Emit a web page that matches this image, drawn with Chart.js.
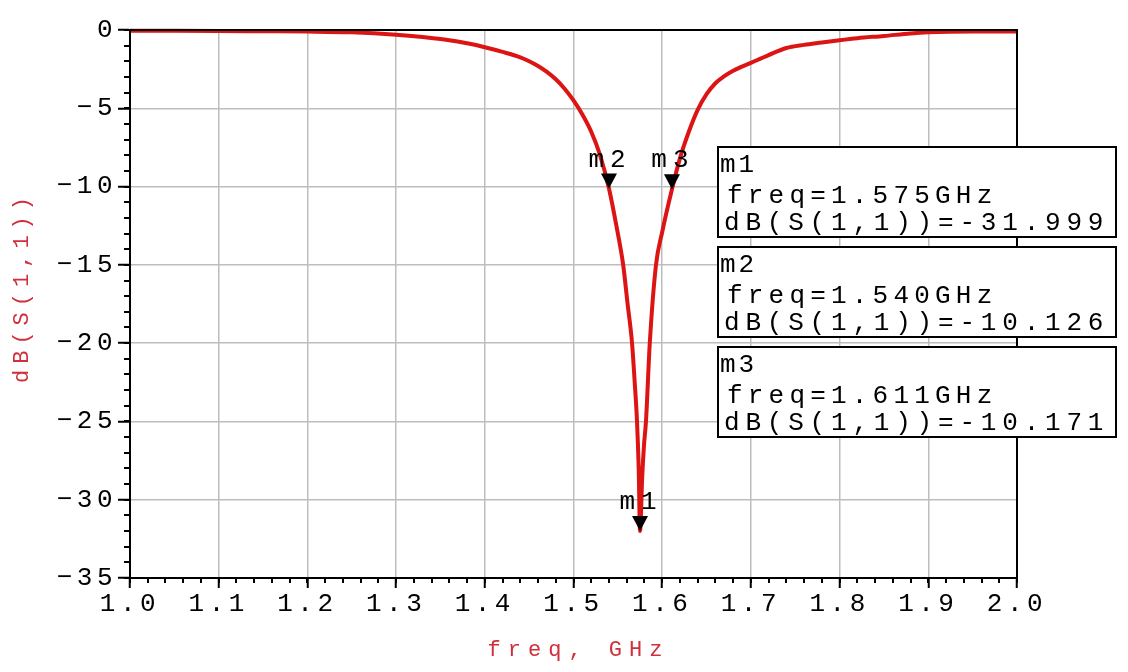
<!DOCTYPE html>
<html>
<head>
<meta charset="utf-8">
<script src="https://cdn.jsdelivr.net/npm/chart.js@4.4.1/dist/chart.umd.min.js"></script>
<style>
  html, body { margin: 0; padding: 0; background: #ffffff; }
  #wrap { width: 1128px; height: 672px; position: relative; }
</style>
</head>
<body>
<div id="wrap"><canvas id="c" width="1128" height="672"></canvas></div>
<script>
// ---- data ----
const freqGHz = [1.00, 1.05, 1.10, 1.15, 1.20, 1.25, 1.30, 1.33, 1.36, 1.38, 1.40, 1.42, 1.44, 1.45, 1.46, 1.47, 1.48, 1.49, 1.50, 1.51, 1.52, 1.53, 1.540, 1.548, 1.556, 1.561, 1.566, 1.569, 1.5716, 1.5735, 1.575, 1.5775, 1.5795, 1.5817, 1.586, 1.593, 1.600, 1.611, 1.620, 1.630, 1.640, 1.650, 1.660, 1.670, 1.680, 1.700, 1.720, 1.740, 1.760, 1.780, 1.800, 1.820, 1.850, 1.880, 1.900, 1.950, 2.00];
const s11dB   = [-0.05, -0.05, -0.06, -0.08, -0.10, -0.15, -0.30, -0.45, -0.65, -0.85, -1.10, -1.40, -1.75, -2.00, -2.30, -2.68, -3.15, -3.75, -4.50, -5.40, -6.50, -8.00, -10.126, -12.4, -15.0, -17.5, -20.0, -22.5, -25.0, -28.0, -31.999, -28.5, -26.5, -25.0, -20.0, -15.0, -12.9, -10.171, -8.2, -6.5, -5.1, -4.1, -3.4, -2.95, -2.6, -2.1, -1.6, -1.15, -0.95, -0.80, -0.65, -0.52, -0.38, -0.22, -0.15, -0.10, -0.10];

const markerNames = ['m1', 'm2', 'm3'];
const markerFreq  = [1.575, 1.540, 1.611];
const markerDb    = [-31.999, -10.126, -10.171];

const xTicksMin = 1.0, xTicksMax = 2.0, xStep = 0.1, xMinorStep = 0.02;
const yTicksMin = -35, yTicksMax = 0, yStep = 5, yMinorStep = 1;

const xTitle = 'freq, GHz';
const yTitle = 'dB(S(1,1))';

// ---- chart ----
const MONO = "'Liberation Mono', 'DejaVu Sans Mono', monospace";
const TEXT_SPACING = '4.5px';
const TITLE_RED = '#d0303c';

const spacingPlugin = {
  id: 'spacing',
  beforeUpdate(chart) { chart.ctx.letterSpacing = TEXT_SPACING; },
  beforeDraw(chart) {
    const ctx = chart.ctx;
    ctx.letterSpacing = TEXT_SPACING;
    ctx.save();
    ctx.fillStyle = '#ffffff';
    ctx.fillRect(0, 0, chart.width, chart.height);
    ctx.restore();
  }
};

const decorPlugin = {
  id: 'decor',
  afterDatasetsDraw(chart) {
    const ctx = chart.ctx;
    const xs = chart.scales.x, ys = chart.scales.y;
    const a = chart.chartArea;
    ctx.save();
    // minor ticks
    ctx.strokeStyle = '#000';
    ctx.lineWidth = 2;
    ctx.beginPath();
    for (let v = yTicksMin; v <= yTicksMax + 1e-9; v += yMinorStep) {
      const py = Math.round(ys.getPixelForValue(v));
      ctx.moveTo(a.left - 6, py); ctx.lineTo(a.left, py);
    }
    for (let i = 0; i <= Math.round((xTicksMax - xTicksMin) / xMinorStep); i++) {
      const v = xTicksMin + i * xMinorStep;
      const px = Math.round(xs.getPixelForValue(v));
      ctx.moveTo(px, a.bottom); ctx.lineTo(px, a.bottom + 5);
    }
    ctx.stroke();
    // frame
    ctx.lineWidth = 2;
    ctx.strokeRect(a.left, a.top, a.right - a.left, a.bottom - a.top);

    // axis titles (red)
    ctx.font = '22px ' + MONO;
    ctx.fillStyle = TITLE_RED;
    ctx.textAlign = 'center';
    ctx.textBaseline = 'middle';
    ctx.letterSpacing = '7px';
    ctx.fillText(xTitle, (a.left + a.right) / 2 + 5, 650);
    ctx.save();
    ctx.translate(22, (a.top + a.bottom) / 2 - 14);
    ctx.rotate(-Math.PI / 2);
    ctx.letterSpacing = '6px';
    ctx.fillText(yTitle, 3, 0);
    ctx.restore();

    // marker triangles and labels
    ctx.font = '26px ' + MONO;
    ctx.letterSpacing = '6px';
    ctx.textAlign = 'center';
    ctx.textBaseline = 'alphabetic';
    for (let i = 0; i < markerNames.length; i++) {
      const px = xs.getPixelForValue(markerFreq[i]);
      const py = ys.getPixelForValue(markerDb[i]);
      ctx.fillStyle = '#000';
      ctx.beginPath();
      ctx.moveTo(px, py);
      ctx.lineTo(px - 8, py - 15);
      ctx.lineTo(px + 8, py - 15);
      ctx.closePath();
      ctx.fill();
      ctx.fillText(markerNames[i], px + 1, py - 22);
    }

    // marker readout boxes
    const boxLeft = a.right - 299, boxRight = a.right + 99;
    const boxTop0 = 147, boxH = 90, boxGap = 10;
    ctx.textAlign = 'left';
    for (let i = 0; i < markerNames.length; i++) {
      const top = boxTop0 + i * (boxH + boxGap);
      ctx.fillStyle = '#fff';
      ctx.fillRect(boxLeft, top, boxRight - boxLeft, boxH);
      ctx.strokeStyle = '#000';
      ctx.lineWidth = 2;
      ctx.strokeRect(boxLeft, top, boxRight - boxLeft, boxH);
      ctx.fillStyle = '#000';
      ctx.letterSpacing = '3px';
      ctx.fillText(markerNames[i], boxLeft + 2, top + 25);
      ctx.letterSpacing = '5.2px';
      ctx.fillText('freq=' + markerFreq[i].toFixed(3) + 'GHz', boxLeft + 9, top + 56);
      ctx.letterSpacing = '5.8px';
      ctx.fillText('dB(S(1,1))=' + markerDb[i].toFixed(3), boxLeft + 6, top + 83);
    }
    ctx.restore();
    ctx.letterSpacing = TEXT_SPACING;
  }
};

const points = freqGHz.map((f, i) => ({ x: f, y: s11dB[i] }));

new Chart(document.getElementById('c'), {
  type: 'line',
  data: {
    datasets: [{
      label: yTitle,
      data: points,
      borderColor: '#dc1414',
      borderWidth: 4,
      pointRadius: 0,
      cubicInterpolationMode: 'monotone',
      fill: false,
      clip: false
    }]
  },
  options: {
    responsive: false,
    animation: false,
    devicePixelRatio: 1,
    layout: { padding: { left: 0, right: 111, top: 30, bottom: 0 } },
    plugins: { legend: { display: false }, tooltip: { enabled: false } },
    scales: {
      x: {
        type: 'linear',
        min: xTicksMin, max: xTicksMax,
        afterFit(s) { s.height = 94; },
        afterBuildTicks(s) {
          const t = [];
          for (let i = 0; i <= Math.round((xTicksMax - xTicksMin) / xStep); i++) t.push({ value: +(xTicksMin + i * xStep).toFixed(1) });
          s.ticks = t;
        },
        ticks: {
          color: '#000',
          font: { family: MONO, size: 26 },
          padding: 1,
          maxRotation: 0,
          autoSkip: false,
          callback: v => Number(v).toFixed(1)
        },
        grid: { color: '#bdbdbd', lineWidth: 1.5, tickColor: '#000', tickLength: 10, tickWidth: 2 },
        border: { color: '#000', width: 2 },
        title: { display: false, text: xTitle }
      },
      y: {
        type: 'linear',
        min: yTicksMin, max: yTicksMax,
        afterFit(s) { s.width = 130; },
        afterBuildTicks(s) {
          const t = [];
          for (let v = yTicksMin; v <= yTicksMax; v += yStep) t.push({ value: v });
          s.ticks = t;
        },
        ticks: {
          color: '#000',
          font: { family: MONO, size: 26 },
          padding: 1,
          autoSkip: false,
          callback: v => v < 0 ? '\u2212' + Math.abs(v) : String(v)
        },
        grid: { color: '#bdbdbd', lineWidth: 1.5, tickColor: '#000', tickLength: 12, tickWidth: 2 },
        border: { color: '#000', width: 2 },
        title: { display: false, text: yTitle }
      }
    }
  },
  plugins: [spacingPlugin, decorPlugin]
});
</script>
</body>
</html>
